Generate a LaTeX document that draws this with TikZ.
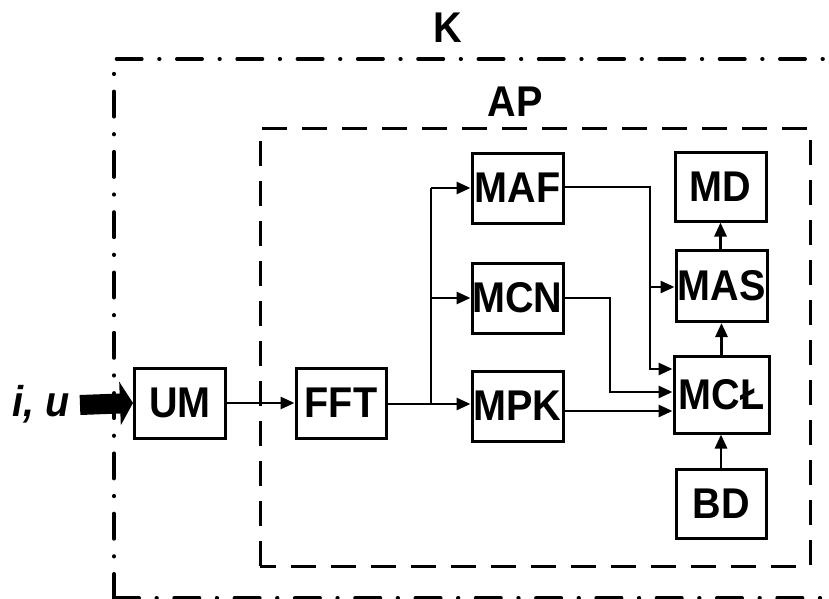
\documentclass[tikz,border=0pt]{standalone}
\usepackage{fontspec}
\usepackage{graphicx}
\setmainfont{Liberation Sans}
\usetikzlibrary{arrows.meta}
\newcommand{\lbl}{\fontsize{43}{43}\selectfont\bfseries}
\newcommand{\nt}[1]{\scalebox{0.92}[1]{#1}}
\begin{document}
\begin{tikzpicture}[x=1pt,y=-1pt,
  blk/.style={draw, line width=3pt, minimum width=91pt, minimum height=70pt, inner sep=0pt, font=\lbl},
  conn/.style={line width=2.8pt, -{Triangle[length=14pt,width=12pt]}},
  plain/.style={line width=2.8pt},
  outerbox/.style={line width=4pt, line cap=round, dash pattern=on 25pt off 17.5pt on 0.3pt off 17.5pt},
  innerbox/.style={line width=3pt, dash pattern=on 25pt off 15pt}]
\useasboundingbox (0,0) rectangle (829,599);
\clip (0,0) rectangle (829,599);
% frames
\draw[outerbox] (114,599) -- (114,59) -- (860,59);
\draw[outerbox] (114,598) -- (860,598);
\draw[innerbox] (260,566) -- (260,128) -- (810,128) -- (810,566) -- cycle;
\node[font=\lbl] (K) at (448,28) {\nt{K}};
\node[font=\lbl] (AP) at (515,102) {\nt{AP}};
% blocks
\node[blk] (UM) at (180,403) {\nt{UM}};
\node[blk, minimum width=90pt] (FFT) at (341,403) {\nt{FFT}};
\node[blk] (MAF) at (517.5,188) {\nt{MAF}};
\node[blk] (MCN) at (517.5,298) {\nt{MCN}};
\node[blk] (MPK) at (517.5,406) {\nt{MPK}};
\node[blk, minimum height=69pt] (MD) at (720.5,186.5) {\nt{MD}};
\node[blk, minimum height=71pt] (MAS) at (721.5,286) {\nt{MAS}};
\node[blk, minimum width=95pt, minimum height=77pt] (MCL) at (721.5,394.5) {\nt{MCŁ}};
\node[blk, minimum width=90pt, minimum height=69pt] (BD) at (721,503.5) {\nt{BD}};
% input
\node[font=\lbl\itshape] (iu) at (41,404) {\nt{i, u}};
\coordinate (in) at (80,405);
\draw[line width=20pt, -{Triangle[length=13pt,width=43pt]}] (in) -- (UM.west);
% connectors
\draw[conn] (UM.east) -- (FFT.west);
\coordinate (b1) at (431,404);
\draw[conn] (FFT.east |- b1) -- (MPK.west |- b1);
\draw[plain] (b1) -- (431,188);
\draw[conn] (431,188) -- (MAF.west);
\draw[conn] (431,298) -- (MCN.west);
\coordinate (j1) at (650,187);
\draw[conn] (MAF.east |- j1) -- (j1) -- (650,369) -- (MCL.west |- 0,369);
\draw[conn] (650,287) -- (MAS.west |- 0,287);
\draw[conn] (MCN.east |- 0,298) -- (610,298) -- (610,392) -- (MCL.west |- 0,392);
\draw[conn] (MPK.east |- 0,411) -- (MCL.west |- 0,411);
\draw[conn] (BD.north) -- (BD.north |- MCL.south);
\draw[conn] (MCL.north -| MAS.south) -- (MAS.south);
\draw[conn] (MAS.north -| MD.south) -- (MD.south);
\end{tikzpicture}
\end{document}
